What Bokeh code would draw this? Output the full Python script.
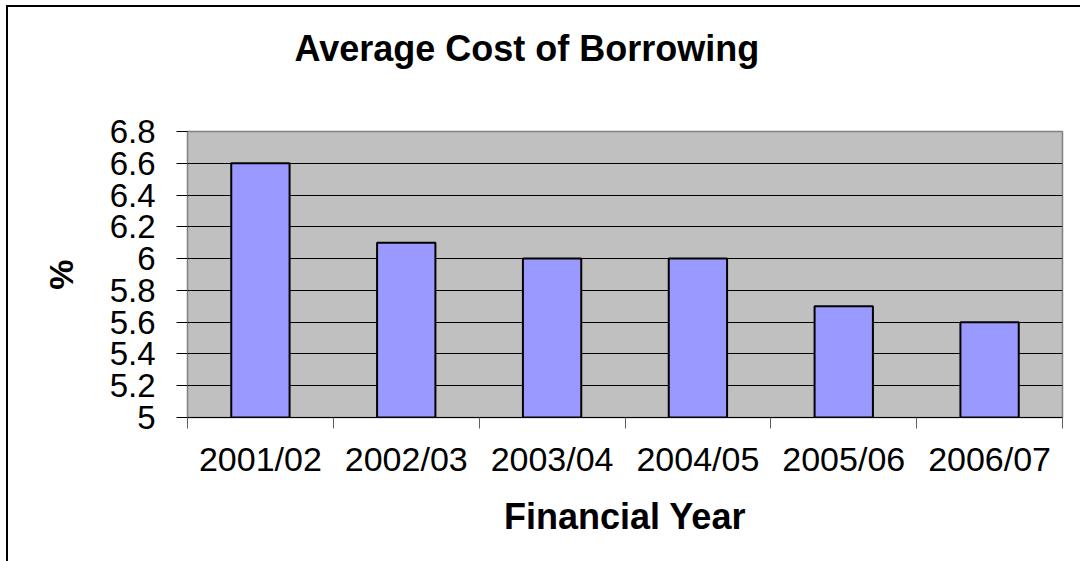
from bokeh.plotting import figure
from bokeh.layouts import column
from bokeh.models import FixedTicker, Range1d, Title, ColumnDataSource
from bokeh.embed import file_html
from bokeh.resources import INLINE

years = ["2001/02", "2002/03", "2003/04", "2004/05", "2005/06", "2006/07"]
cost = [6.6, 6.1, 6.0, 6.0, 5.7, 5.6]
y_ticks = [5.0, 5.2, 5.4, 5.6, 5.8, 6.0, 6.2, 6.4, 6.6, 6.8]
y_tick_labels = ["5", "5.2", "5.4", "5.6", "5.8", "6", "6.2", "6.4", "6.6", "6.8"]
title_text = "Average Cost of Borrowing"

FONT = "Liberation Sans"

xc = [i + 0.5 for i in range(len(years))]
src = ColumnDataSource(dict(x=xc, top=cost, year=years))

p = figure(width=1072, height=554, output_backend="svg", toolbar_location=None,
           x_range=Range1d(0, len(years)), y_range=Range1d(5.0, 6.8),
           min_border_left=179, min_border_right=18, min_border_top=124, min_border_bottom=144)

p.background_fill_color = "#C0C0C0"
p.border_fill_color = "white"
p.outline_line_color = "#808080"
p.outline_line_width = 1.5

p.vbar(x="x", top="top", bottom=5.0, width=0.4, source=src,
       fill_color="#9999FF", line_color="black", line_width=2)

# x axis: labels at centres, ticks at category boundaries
p.xaxis.ticker = FixedTicker(ticks=xc, minor_ticks=list(range(len(years) + 1)))
p.xaxis.major_label_overrides = {x: y for x, y in zip(xc, years)}
p.xaxis.major_tick_out = 0
p.xaxis.major_tick_in = 0
p.xaxis.minor_tick_out = 11
p.xaxis.minor_tick_in = 0
p.xaxis.minor_tick_line_color = "#606060"
p.xaxis.axis_line_color = "black"
p.xaxis.major_label_standoff = 11
p.xaxis.major_label_text_font = FONT
p.xaxis.major_label_text_font_size = "34px"
p.xaxis.major_label_text_color = "black"
p.xaxis.axis_label = "Financial Year"
p.xaxis.axis_label_text_font = FONT
p.xaxis.axis_label_text_font_style = "bold"
p.xaxis.axis_label_text_font_size = "36px"
p.xaxis.axis_label_standoff = 15
p.xaxis.axis_label_text_color = "black"

# y axis
p.yaxis.ticker = FixedTicker(ticks=y_ticks)
p.yaxis.major_label_overrides = {t: s for t, s in zip(y_ticks, y_tick_labels)}
p.yaxis.major_tick_out = 11
p.yaxis.major_tick_in = 0
p.yaxis.minor_tick_out = 0
p.yaxis.minor_tick_in = 0
p.yaxis.major_tick_line_color = "black"
p.yaxis.axis_line_color = "#808080"
p.yaxis.major_label_standoff = 21
p.yaxis.major_label_text_font = FONT
p.yaxis.major_label_text_font_size = "33px"
p.yaxis.major_label_text_color = "black"
p.yaxis.axis_label = "%"
p.yaxis.axis_label_text_font = FONT
p.yaxis.axis_label_text_font_style = "bold"
p.yaxis.axis_label_text_font_size = "34px"
p.yaxis.axis_label_standoff = 27
p.yaxis.axis_label_text_color = "black"

p.xgrid.visible = False
p.ygrid.ticker = FixedTicker(ticks=y_ticks[1:-1])
p.ygrid.grid_line_color = "black"
p.ygrid.grid_line_width = 1.2

# spacer panel between frame and title, then the title itself (outermost)
spacer = Title(text=" ", text_font=FONT, text_font_size="36px", standoff=20)
p.add_layout(spacer, "above")
title = Title(text=title_text, align="left", offset=107, vertical_align="bottom",
              text_font=FONT, text_font_size="36px", text_font_style="bold",
              text_color="black", standoff=0)
p.add_layout(title, "above")

page = column(p, styles={"border-top": "2px solid black", "border-left": "2px solid black",
                         "border-right": "none", "border-bottom": "none",
                         "margin-left": "6px", "margin-top": "5px", "overflow": "hidden"})

open("out.html", "w").write(file_html(page, INLINE))
